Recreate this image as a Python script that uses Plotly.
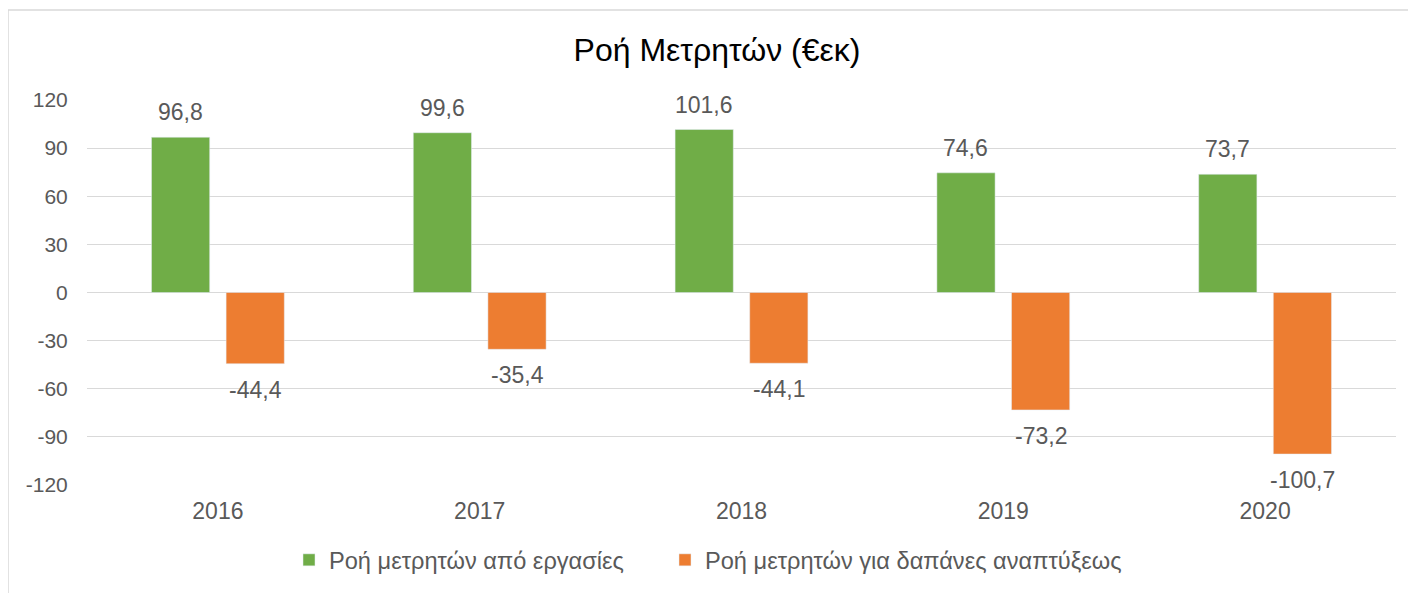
import plotly.graph_objects as go

years = ["2016", "2017", "2018", "2019", "2020"]
ops = [96.8, 99.6, 101.6, 74.6, 73.7]
capex = [-44.4, -35.4, -44.1, -73.2, -100.7]
series_names = ["Ροή μετρητών από εργασίες", "Ροή μετρητών για δαπάνες αναπτύξεως"]
title_text = "Ροή Μετρητών (€εκ)"
yticks = [-120, -90, -60, -30, 0, 30, 60, 90, 120]

GREEN = "#70ad47"
ORANGE = "#ed7d31"
GRAY = "#595959"
FONT = "Liberation Sans, Arial, sans-serif"

# page body has an 8px margin, so the figure is drawn 8px in from the window edges
W, H = 1408, 585
ML, MR, MT, MB = 79, 20, 92, 108
BARGAP = 0.43
BARGROUPGAP = 0.22

fig = go.Figure()
fig.add_trace(go.Bar(x=years, y=ops, name=series_names[0], marker_color=GREEN,
                     legend="legend"))
fig.add_trace(go.Bar(x=years, y=capex, name=series_names[1], marker_color=ORANGE,
                     legend="legend2"))

plot_w = W - ML - MR
plot_h = H - MT - MB
slot = (1 - BARGAP) * plot_w / len(years) / 2
annotations = []
for vals, sh in ((ops, -slot / 2), (capex, slot / 2)):
    for i, v in enumerate(vals):
        annotations.append(dict(
            x=i, y=v, xref="x", yref="y", text=f"{v:.1f}".replace(".", ","),
            showarrow=False, xshift=sh, yshift=25 if v >= 0 else -26,
            yanchor="middle", font=dict(family=FONT, size=23, color=GRAY)))

bx = (0 - ML) / plot_w
by = (H - MB - 2) / plot_h
shapes = [
    dict(type="line", xref="paper", yref="paper", x0=bx, x1=bx, y0=-0.3, y1=by,
         line=dict(color="#d9d9d9", width=1.5)),
    dict(type="line", xref="paper", yref="paper", x0=bx, x1=1.05, y0=by, y1=by,
         line=dict(color="#d9d9d9", width=1.5)),
]

legend_common = dict(orientation="h", xanchor="left", y=-75 / plot_h, yanchor="middle",
                     font=dict(size=23.6, color=GRAY), bgcolor="rgba(0,0,0,0)")

fig.update_layout(
    width=W, height=H,
    margin=dict(l=ML, r=MR, t=MT, b=MB, autoexpand=False),
    paper_bgcolor="white", plot_bgcolor="white",
    barmode="group", bargap=BARGAP, bargroupgap=BARGROUPGAP,
    title=dict(text=title_text, x=709 / W, y=1 - 42 / H, xref="container", yref="container",
               xanchor="center", yanchor="middle",
               font=dict(family=FONT, size=32, color="black")),
    font=dict(family=FONT, color=GRAY),
    xaxis=dict(type="category", range=[-0.5, len(years) - 0.5], showgrid=False,
               showline=False, zeroline=False,
               ticks="outside", ticklen=5, tickcolor="rgba(0,0,0,0)",
               tickfont=dict(size=23, color=GRAY)),
    yaxis=dict(range=[-120, 120], tickvals=yticks, ticktext=[str(v) for v in yticks],
               showgrid=True, gridcolor="#d9d9d9",
               gridwidth=1, zeroline=True, zerolinecolor="#d9d9d9", zerolinewidth=1,
               ticks="outside", ticklen=14, tickcolor="rgba(0,0,0,0)",
               showline=False, tickfont=dict(size=21, color=GRAY)),
    legend=dict(x=(281 - ML) / plot_w, **legend_common),
    legend2=dict(x=(657 - ML) / plot_w, **legend_common),
    annotations=annotations,
    shapes=shapes,
    showlegend=True,
)

fig.write_html("out.html")
